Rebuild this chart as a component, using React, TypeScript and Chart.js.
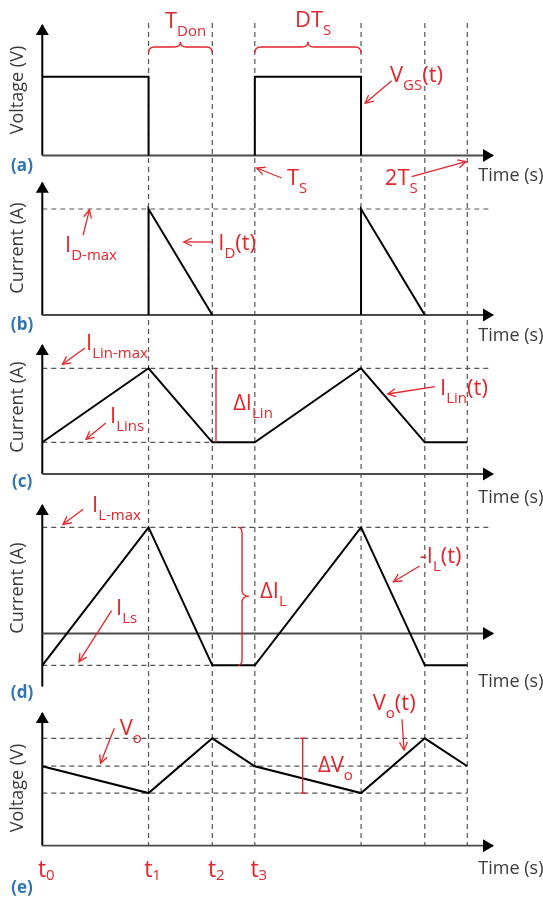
import { useEffect, useRef } from 'react';
import { Chart, registerables } from 'chart.js';

Chart.register(...registerables);

const W = 543;
const H = 901;

// ---------- data (time in units of the switching period Ts) ----------
const instantTimes = [0, 0.5, 0.8, 1]; // t0, t1, t2, t3
const instantSubs = ['0', '1', '2', '3'];
const markerTimes = [0.5, 0.8, 1, 1.5, 1.8, 2]; // dashed vertical markers

const vgsTime = [0, 0.5, 0.5, 0.5, 1, 1, 1.5, 1.5];
const vgsValue = [1, 1, 0, null, 0, 1, 1, 0];

const idTime = [0.5, 0.5, 0.8, 0.8, 1.5, 1.5, 1.8];
const idValue = [0, 1, 0, null, 0, 1, 0];

const ilinTime = [0, 0.5, 0.8, 1, 1.5, 1.8, 2];
const ilinValue = [0.3, 1, 0.3, 0.3, 1, 0.3, 0.3];

const ilTime = [0, 0.5, 0.8, 1, 1.5, 1.8, 2];
const ilValue = [-0.3, 1, -0.3, -0.3, 1, -0.3, -0.3];

const voTime = [0, 0.5, 0.8, 1, 1.5, 1.8, 2];
const voValue = [0.74, 0.49, 1, 0.74, 0.49, 1, 0.74];

// dashed reference levels and the time where each one ends
const idRefLevels = [1];
const idRefEnds = [2.11];
const ilinRefLevels = [1, 0.3];
const ilinRefEnds = [2.11, 0.8];
const ilRefLevels = [1, -0.3];
const ilRefEnds = [2.11, 0.8];
const voRefLevels = [1, 0.74, 0.49];
const voRefEnds = [2, 2, 2];

// ---------- layout ----------
type PK = 'a' | 'b' | 'c' | 'd' | 'e';
const KEYS: PK[] = ['a', 'b', 'c', 'd', 'e'];
const X_ORIGIN = 42.3;
const X_UNIT = 212.5;
const PANEL_PX: Record<PK, { zero: number; unit: number }> = {
  a: { zero: 155.5, unit: 78.8 },
  b: { zero: 315, unit: 106 },
  c: { zero: 474, unit: 105.7 },
  d: { zero: 633.5, unit: 106.2 },
  e: { zero: 845.7, unit: 107.4 },
};
const FRAME_PX = { zero: 845.7, unit: 822.7 };
const yAxisSpan: Record<PK, [number, number]> = {
  a: [0, 1.656],
  b: [0, 1.248],
  c: [0, 1.22],
  d: [-0.5, 1.21],
  e: [0, 1.236],
};
const xAxisEnd = 2.121;

const RED = '#E3262B';
const BLUE = '#2E75B6';
const TXT = '#3a3a3a';
const GRID = '#555555';
const FONT = '"Open Sans", "DejaVu Sans", sans-serif';

const yTitles: [PK, string, number][] = [
  ['a', 'Voltage (V)', 0.831],
  ['b', 'Current (A)', 0.632],
  ['c', 'Current (A)', 0.634],
  ['d', 'Current (A)', 0.428],
  ['e', 'Voltage (V)', 0.537],
];
const timeLabelY: Record<PK, number> = { a: -0.26, b: -0.198, c: -0.227, d: -0.4567, e: -0.216 };
const panelTagY: Record<PK, number> = { a: -0.133, b: -0.094, c: -0.0757, d: -0.56, e: -0.3985 };

// red annotation texts: [panel, t, value, parts] ('_' prefix = subscript)
const redLabels: [PK, number, number, string[]][] = [
  ['a', 0.577, 1.614, ['T', '_Don']],
  ['a', 1.189, 1.631, ['DT', '_S']],
  ['a', 1.636, 0.933, ['V', '_GS', '(t)']],
  ['a', 1.151, -0.374, ['T', '_S']],
  ['a', 1.612, -0.374, ['2T', '_S']],
  ['b', 0.107, 0.594, ['I', '_D-max']],
  ['b', 0.828, 0.613, ['I', '_D', '(t)']],
  ['c', 0.206, 1.173, ['I', '_Lin-max']],
  ['c', 0.898, 0.605, ['ΔI', '_Lin']],
  ['c', 0.319, 0.4825, ['I', '_Lins']],
  ['c', 1.872, 0.747, ['I', '_Lin', '(t)']],
  ['d', 0.234, 1.144, ['I', '_L-max']],
  ['d', 1.0245, 0.334, ['ΔI', '_L']],
  ['d', 0.347, 0.174, ['I', '_Ls']],
  ['d', 1.776, 0.664, ['-I', '_L', '(t)']],
  ['e', 0.364, 1.031, ['V', '_o']],
  ['e', 1.2974, 0.688, ['ΔV', '_o']],
  ['e', 1.5548, 1.264, ['V', '_o', '(t)']],
];

// red pointer arrows: [panel, fromT, fromV, toT, toV]
const redArrows: [PK, number, number, number, number][] = [
  ['a', 1.644, 0.949, 1.519, 0.662],
  ['a', 1.127, -0.2855, 1.009, -0.1586],
  ['a', 1.738, -0.269, 1.994, -0.0787],
  ['b', 0.192, 0.755, 0.222, 0.991],
  ['b', 0.7986, 0.689, 0.666, 0.689],
  ['c', 0.201, 1.192, 0.0946, 1.038],
  ['c', 0.299, 0.4825, 0.2056, 0.328],
  ['c', 1.848, 0.826, 1.6254, 0.757],
  ['d', 0.1925, 1.1695, 0.0974, 1.028],
  ['d', 0.326, 0.2147, 0.1727, -0.2655],
  ['d', 1.7755, 0.6356, 1.6527, 0.4878],
  ['e', 0.339, 1.093, 0.274, 0.767],
  ['e', 1.6927, 1.177, 1.7022, 0.891],
];

// horizontal braces [panel, t0, t1, vEnd, vMid, vTip]
const hBraces: [PK, number, number, number, number, number][] = [
  ['a', 0.5, 0.8, 1.301, 1.377, 1.444],
  ['a', 1, 1.5, 1.301, 1.377, 1.444],
];
// vertical braces [panel, vTop, vBottom, tEnd, tMid, tTip]
const vBraces: [PK, number, number, number, number, number][] = [
  ['d', 1, -0.3, 0.921, 0.94, 0.973],
];
// span markers [panel, t, v0, v1, capPx]
const spans: [PK, number, number, number, number][] = [
  ['c', 0.8174, 0.3, 1, 0],
  ['e', 1.2254, 0.49, 1, 2.5],
];

// ---------- helpers ----------
const range = (zero: number, unit: number) => ({ min: (zero - H) / unit, max: zero / unit });
const pts = (xs: number[], ys: (number | null)[]) => xs.map((x, i) => ({ x, y: ys[i] }));

function line(axis: string, data: any[], extra: any = {}) {
  return {
    type: 'line',
    data,
    yAxisID: axis,
    borderColor: '#000',
    borderWidth: 2,
    pointRadius: 0,
    pointHoverRadius: 0,
    fill: false,
    tension: 0,
    clip: false,
    borderJoinStyle: 'miter',
    borderCapStyle: 'butt',
    order: 1,
    ...extra,
  };
}

function drawRich(ctx: CanvasRenderingContext2D, x: number, y: number, parts: string[], size = 22, subSize = 15, drop = 8, align = 'left') {
  const segs = parts.map((p) => (p.startsWith('_') ? { t: p.slice(1), sub: true } : { t: p, sub: false }));
  const widths = segs.map((s) => {
    ctx.font = `${s.sub ? subSize : size}px ${FONT}`;
    return ctx.measureText(s.t).width;
  });
  const total = widths.reduce((a, b) => a + b, 0);
  let cx = align === 'center' ? x - total / 2 : x;
  ctx.textAlign = 'left';
  ctx.textBaseline = 'alphabetic';
  segs.forEach((s, i) => {
    ctx.font = `${s.sub ? subSize : size}px ${FONT}`;
    ctx.fillText(s.t, cx, s.sub ? y + drop : y);
    cx += widths[i];
  });
}

const annotationPlugin = {
  id: 'annotations',
  afterDatasetsDraw(chart: any) {
    const ctx: CanvasRenderingContext2D = chart.ctx;
    const xs = chart.scales.x;
    const px = (t: number) => xs.getPixelForValue(t);
    const py = (k: PK, v: number) => chart.scales['y' + k].getPixelForValue(v);

    // arrow heads at the end of flagged datasets
    chart.data.datasets.forEach((ds: any, i: number) => {
      if (!ds.arrow) return;
      const meta = chart.getDatasetMeta(i);
      const n = meta.data.length;
      const p1 = meta.data[n - 1];
      const p0 = meta.data[n - 2];
      const ang = Math.atan2(p1.y - p0.y, p1.x - p0.x);
      ctx.save();
      ctx.translate(p1.x, p1.y);
      ctx.rotate(ang);
      if (ds.arrow === 'filled') {
        ctx.fillStyle = '#000';
        ctx.beginPath();
        ctx.moveTo(1, 0);
        ctx.lineTo(-10, -6.5);
        ctx.lineTo(-10, 6.5);
        ctx.closePath();
        ctx.fill();
      } else {
        ctx.strokeStyle = ds.borderColor;
        ctx.lineWidth = ds.borderWidth;
        ctx.beginPath();
        ctx.moveTo(-8, -4);
        ctx.lineTo(0, 0);
        ctx.lineTo(-8, 4);
        ctx.stroke();
      }
      ctx.restore();
    });

    ctx.save();
    ctx.strokeStyle = RED;
    ctx.lineWidth = 1.4;
    // horizontal braces
    hBraces.forEach(([k, t0, t1, vE, vM, vT]) => {
      const X0 = px(t0), X1 = px(t1), Xc = (X0 + X1) / 2;
      const Ye = py(k, vE), Ym = py(k, vM), Yt = py(k, vT);
      const r = 6;
      ctx.beginPath();
      ctx.moveTo(X0, Ye);
      ctx.quadraticCurveTo(X0, Ym, X0 + r, Ym);
      ctx.lineTo(Xc - r, Ym);
      ctx.quadraticCurveTo(Xc, Ym, Xc, Yt);
      ctx.quadraticCurveTo(Xc, Ym, Xc + r, Ym);
      ctx.lineTo(X1 - r, Ym);
      ctx.quadraticCurveTo(X1, Ym, X1, Ye);
      ctx.stroke();
    });
    // vertical braces
    vBraces.forEach(([k, v0, v1, tE, tM, tT]) => {
      const Y0 = py(k, v0), Y1 = py(k, v1), Yc = (Y0 + Y1) / 2;
      const Xe = px(tE), Xm = px(tM), Xt = px(tT);
      const r = 6;
      ctx.beginPath();
      ctx.moveTo(Xe, Y0);
      ctx.quadraticCurveTo(Xm, Y0, Xm, Y0 + r);
      ctx.lineTo(Xm, Yc - r);
      ctx.quadraticCurveTo(Xm, Yc, Xt, Yc);
      ctx.quadraticCurveTo(Xm, Yc, Xm, Yc + r);
      ctx.lineTo(Xm, Y1 - r);
      ctx.quadraticCurveTo(Xm, Y1, Xe, Y1);
      ctx.stroke();
    });
    // span markers
    spans.forEach(([k, t, v0, v1, cap]) => {
      const X = px(t), Y0 = py(k, v0), Y1 = py(k, v1);
      ctx.beginPath();
      ctx.moveTo(X, Y0);
      ctx.lineTo(X, Y1);
      if (cap > 0) {
        ctx.moveTo(X - cap, Y0);
        ctx.lineTo(X + cap, Y0);
        ctx.moveTo(X - cap, Y1);
        ctx.lineTo(X + cap, Y1);
      }
      ctx.stroke();
    });
    ctx.restore();

    // red labels
    ctx.save();
    ctx.fillStyle = RED;
    redLabels.forEach(([k, t, v, parts]) => drawRich(ctx, px(t), py(k, v), parts));
    instantTimes.forEach((t, i) => drawRich(ctx, px(t) + 4, py('e', -0.29), ['t', '_' + instantSubs[i]], 23, 15, 3, 'center'));
    ctx.restore();

    // axis titles, time labels, panel tags
    ctx.save();
    KEYS.forEach((k) => {
      ctx.fillStyle = TXT;
      ctx.font = `18px ${FONT}`;
      ctx.textAlign = 'left';
      ctx.textBaseline = 'middle';
      ctx.fillText('Time (s)', px(2.052), py(k, timeLabelY[k]));
      ctx.fillStyle = BLUE;
      ctx.font = `bold 17px ${FONT}`;
      ctx.textAlign = 'center';
      ctx.fillText(`(${k})`, px(-0.0955), py(k, panelTagY[k]));
    });
    yTitles.forEach(([k, title, v]) => {
      ctx.save();
      ctx.translate(px(-0.1144), py(k, v));
      ctx.rotate(-Math.PI / 2);
      ctx.fillStyle = TXT;
      ctx.font = `18px ${FONT}`;
      ctx.textAlign = 'center';
      ctx.textBaseline = 'middle';
      ctx.fillText(title, 0, 0);
      ctx.restore();
    });
    ctx.restore();
  },
};

function makeConfig(): any {
  const datasets: any[] = [];
  const dash = { borderColor: GRID, borderWidth: 1.2, borderDash: [5, 4], order: 3 };

  // vertical dashed time markers spanning all panels
  markerTimes.forEach((t) => datasets.push(line('yf', [{ x: t, y: 1 }, { x: t, y: 0 }], dash)));

  // horizontal dashed reference levels
  const refs: [PK, number[], number[]][] = [
    ['b', idRefLevels, idRefEnds],
    ['c', ilinRefLevels, ilinRefEnds],
    ['d', ilRefLevels, ilRefEnds],
    ['e', voRefLevels, voRefEnds],
  ];
  refs.forEach(([k, lv, ends]) =>
    lv.forEach((v, i) => datasets.push(line('y' + k, [{ x: 0, y: v }, { x: ends[i], y: v }], dash)))
  );

  // axes with arrow heads
  KEYS.forEach((k) => {
    datasets.push(line('y' + k, [{ x: 0, y: 0 }, { x: xAxisEnd, y: 0 }], { borderColor: '#4a4a4a', borderWidth: 1.8, order: 2, arrow: 'filled' }));
    datasets.push(line('y' + k, [{ x: 0, y: yAxisSpan[k][0] }, { x: 0, y: yAxisSpan[k][1] }], { borderColor: '#000', borderWidth: 2, order: 2, arrow: 'filled' }));
  });

  // waveforms
  datasets.push(line('ya', pts(vgsTime, vgsValue), { label: 'VGS(t)' }));
  datasets.push(line('yb', pts(idTime, idValue), { label: 'ID(t)' }));
  datasets.push(line('yc', pts(ilinTime, ilinValue), { label: 'ILin(t)' }));
  datasets.push(line('yd', pts(ilTime, ilValue), { label: '-IL(t)' }));
  datasets.push(line('ye', pts(voTime, voValue), { label: 'Vo(t)' }));

  // red pointers
  redArrows.forEach(([k, t0, v0, t1, v1]) =>
    datasets.push(line('y' + k, [{ x: t0, y: v0 }, { x: t1, y: v1 }], { borderColor: RED, borderWidth: 1.3, order: 0, arrow: 'open' }))
  );

  const scales: any = {
    x: { type: 'linear', display: false, bounds: 'data', min: -X_ORIGIN / X_UNIT, max: (W - X_ORIGIN) / X_UNIT },
    yf: { type: 'linear', display: false, bounds: 'data', ...range(FRAME_PX.zero, FRAME_PX.unit) },
  };
  KEYS.forEach((k) => {
    scales['y' + k] = { type: 'linear', display: false, bounds: 'data', ...range(PANEL_PX[k].zero, PANEL_PX[k].unit) };
  });

  return {
    type: 'line',
    data: { datasets },
    options: {
      animation: false,
      responsive: false,
      devicePixelRatio: 1,
      events: [],
      layout: { padding: 0 },
      scales,
      plugins: { legend: { display: false }, tooltip: { enabled: false }, title: { display: false } },
    },
    plugins: [annotationPlugin],
  };
}

export default function App() {
  const ref = useRef<HTMLCanvasElement>(null);
  useEffect(() => {
    let chart: any = null;
    let cancelled = false;
    const build = () => {
      if (cancelled || !ref.current) return;
      chart = new Chart(ref.current, makeConfig());
    };
    const f: any = (document as any).fonts;
    if (f && f.load) {
      Promise.all([f.load(`18px "Open Sans"`), f.load(`bold 17px "Open Sans"`)]).then(build, build);
    } else {
      build();
    }
    return () => {
      cancelled = true;
      if (chart) chart.destroy();
    };
  }, []);
  return (
    <div style={{ position: 'absolute', left: 0, top: 0, width: W, height: H, background: '#fff' }}>
      <canvas ref={ref} width={W} height={H} style={{ display: 'block', width: W, height: H }} />
    </div>
  );
}
